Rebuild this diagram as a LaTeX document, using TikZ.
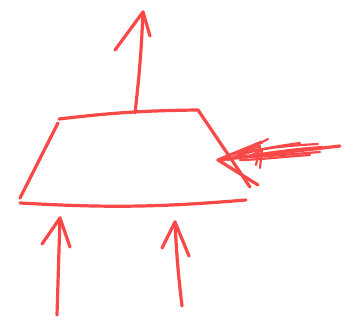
\documentclass[tikz,border=0pt]{standalone}
\usepackage{xcolor}
\usetikzlibrary{calc}
\definecolor{skRed}{HTML}{F94848}
\tikzset{
  skline/.style={draw=skRed,line width=3.2pt,line cap=round,line join=round},
  skthin/.style={skline,line width=2.2pt}
}

\begin{document}
\begin{tikzpicture}[x=1pt,y=-1pt]
    \useasboundingbox (0,0) rectangle (360,328);
    % trapezoid
    \coordinate (tl) at (59,119);
    \coordinate (tr) at (198,110);
    \coordinate (br) at (250,187);
    \coordinate (bl) at (20,198);
    \draw[skline] (tl) to[bend left=3] (tr) -- (br);
    \draw[skline] (58,123) -- (bl);
    \draw[skline] (20,203) to[bend right=4] (246,200);

    % output upwards
    \coordinate (otip) at (143,12);
    \draw[skline] (135,113) to[bend right=2] (otip);
    \draw[skline] (115,50) -- (otip) -- (150,36);

    % inputs from below
    \coordinate (ltip) at (60,218);
    \draw[skline] (57,315) -- (ltip);
    \draw[skline] (42,244) -- (ltip) -- (70,247);
    \coordinate (rtip) at (175,222);
    \draw[skline] (182,306) to[bend left=2] (rtip);
    \draw[skline] (162,248) -- (rtip) -- (189,256);

    % input from the right, scribbled
    \coordinate (stip) at (218,160);
    \draw[skline] (340,146) -- (stip);
    \draw[skthin] (322,147) .. controls (280,150) and (250,156) .. (232,158);
    \draw[skthin] (320,152) .. controls (280,155) and (250,158) .. (236,157);
    \draw[skthin] (318,144) .. controls (280,146) and (250,150) .. (238,155);
    \draw[skthin] (300,143) .. controls (270,147) and (245,152) .. (228,160);
    \draw[skthin] (310,155) .. controls (280,157) and (255,160) .. (240,160);
    \draw[skline] (stip) -- (262,142);
    \draw[skthin] (232,158) -- (268,139);
    \draw[skthin] (238,156) -- (258,143);
    \draw[skthin] (240,156) -- (260,146) -- (256,165);
    \draw[skthin] (246,158) -- (262,150) -- (260,168);
    \draw[skline] (stip) -- (258,185);
\end{tikzpicture}
\end{document}
